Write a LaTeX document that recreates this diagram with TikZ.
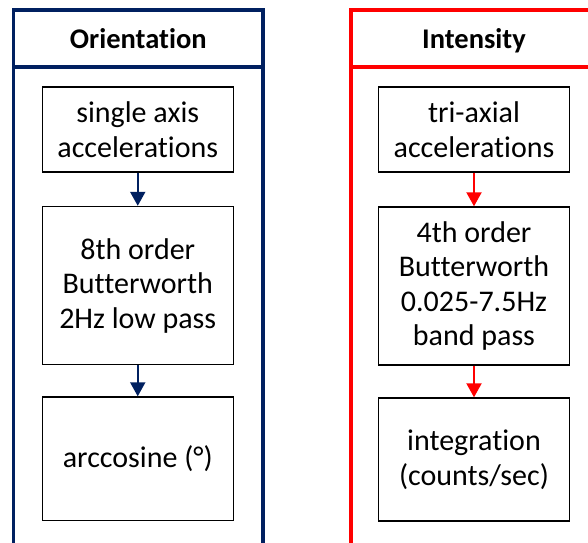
\documentclass[tikz,border=0pt]{standalone}
\usepackage{fontspec}
\setmainfont{Carlito}[Ligatures=NoCommon]
\usetikzlibrary{arrows.meta}
\definecolor{navy}{RGB}{0,32,96}
\definecolor{brightred}{RGB}{255,0,0}

\tikzset{
  head/.style={line width=3.5pt, minimum height=57pt, inner sep=0pt, outer sep=0pt,
    text height=24pt, text depth=4pt,
    font=\bfseries\fontsize{28.5}{34}\selectfont},
  box/.style={draw=black, line width=1.4pt, minimum width=191pt, align=center,
    inner sep=0pt, font=\fontsize{30}{34.5}\selectfont},
  flow/.style={line width=2pt, -{Triangle[width=15pt,length=14pt]}}
}

\begin{document}
\begin{tikzpicture}[x=1pt,y=-1pt]
\useasboundingbox (0,0) rectangle (588,542);
\clip (0,0) rectangle (588,542);

% orientation column
\node[head, draw=navy, minimum width=249.5pt] (ohead) at (138.25,38.5) {Orientation};
\draw[navy, line width=3.5pt] (ohead.south west) -- ++(0,520);
\draw[navy, line width=3.5pt] (ohead.south east) -- ++(0,520);

\node[box, minimum height=85pt] (oacc) at (137.75,129.5) {single axis\\accelerations};
\node[box, minimum height=158pt] (ofilt) at (137.75,285.5) {8th order\\Butterworth\\2Hz low pass};
\node[box, minimum height=123.5pt] (oarc) at (137.75,458.75) {arccosine (°)};

\draw[flow, navy] (oacc) -- (ofilt);
\draw[flow, navy] (ofilt) -- (oarc);

% intensity column
\node[head, draw=brightred, minimum width=246pt] (ihead) at (474,38.5) {Intensity};
\draw[brightred, line width=3.5pt] (ihead.south west) -- ++(0,520);
\draw[brightred, line width=3.5pt] (ihead.south east) -- ++(0,520);

\node[box, minimum height=85pt] (iacc) at (474,129.5) {tri-axial\\accelerations};
\node[box, minimum height=158pt] (ifilt) at (474,286) {4th order\\Butterworth\\0.025-7.5Hz\\band pass};
\node[box, minimum height=123pt] (iint) at (474,459.5) {integration\\(counts/sec)};

\draw[flow, brightred] (iacc) -- (ifilt);
\draw[flow, brightred] (ifilt) -- (iint);
\end{tikzpicture}
\end{document}
